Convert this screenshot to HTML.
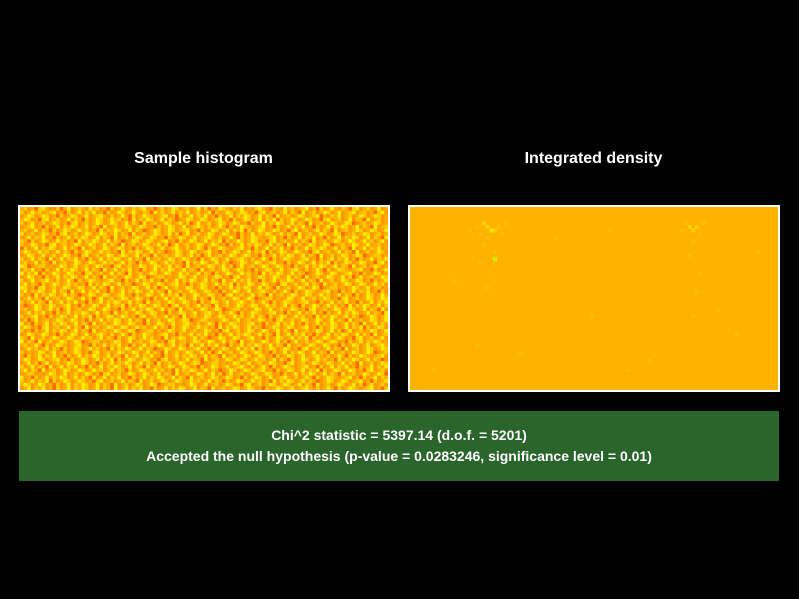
<!DOCTYPE html>
<html><head><meta charset="utf-8"><style>
html,body{margin:0;padding:0;background:#000;width:799px;height:599px;overflow:hidden;font-family:"Liberation Sans",sans-serif}
.t{position:absolute;color:#fff;font-weight:bold;font-size:16px;text-align:center}
svg{position:absolute}
#box{position:absolute;left:19px;top:411px;width:760px;height:70px;background:#2a662c;color:#fff;font-weight:bold;font-size:14px;text-align:center;line-height:21px;box-sizing:border-box;padding-top:14px}
</style></head><body>
<div class="t" style="left:18px;width:371px;top:150px">Sample histogram</div>
<div class="t" style="left:408px;width:371px;top:150px">Integrated density</div>
<svg id="h" style="left:18px;top:205px" width="372" height="187"></svg>
<svg id="d" style="left:408px;top:205px" width="372" height="187"></svg>
<div id="box"><div>Chi^2 statistic = 5397.14 (d.o.f. = 5201)</div><div>Accepted the null hypothesis (p-value = 0.0283246, significance level = 0.01)</div></div>
<script>
const cols=102, rowsN=51;
const histRows=[
"231203421130241232142312031242132341202312431231241302143213241213421032142312341203124213203412312412",
"312423123412031241324120312431242132042312413241231240312431243120341231241320412312431241234123120341",
"124312431203124312412342131242031243212341203124132412031241324312413204123124312340213241231243124312",
"243120341231241320312431242312041324312413201243124312341203124312413240312431243120341231241320412312",
"312412312431203412312431243124132041231243124130241231243124312031241324312413204123124312430123124312",
"123412031241324312413204123124312431203124312412342131242031243212341203124132412031241324312413204123",
"231241320312431242312041324312413201243124312341203124312413240312431243120341231241320412312431243124",
"412312431203412312431243124132041231243124130241231243124312031241324312413204123124312430123124312312",
"124132412031241324312413204123124312431203124312412342131242031243212341203124132412031241324312413204",
"320312431242312041324312413201243124312341203124312413240312431243120341231241320412312431243124231241",
"312431203412312431243124132041231243124130241231243124312031241324312413204123124312430123124312412312",
"031241324312413204123124312431203124312412342131242031243212341203124132412031241324312413204124132412",
"243124231241320312431242312041324312413201243124312341203124312413240312431243120341231241320412312431",
"124312412312431203412312431243124132041231243124130241231243124312031241324312413204123124312430123312",
"312413204124132412031241324312413204123124312431203124312412342131242031243212341203124132412031241324",
"231241320412312431243124231241320312431242312041324312413201243124312341203124312413240312431243120341",
"430123312124312412312431203412312431243124132041231243124130241231243124312031241324312413204123124312",
"132412031241324312413204124132412031241324312413204123124312431203124312412342131242031243212341203124",
"413240312431243120341231241320412312431243124231241320312431242312041324312413201243124312341203124312",
"124312031241324312413204123124312430123312124312412312431203412312431243124132041231243124130241231243",
"312412342131242031243212341203124132412031241324312413204124132412031241324312413204123124312431203124",
"241320312431242312041324312413201243124312341203124312413240312431243120341231241320412312431243124231",
"431203412312431243124132041231243124130241231243124312031241324312413204123124312430123312124312412312",
"241324312413204124132412031241324312413204123124312431203124312412342131242031243212341203124132412031",
"312041324312413201243124312341203124312413240312431243120341231241320412312431243124231241320312431242",
"124132041231243124130241231243124312031241324312413204123124312430123312124312412312431203412312431243",
"312413204124132412031241324312413204123124312431203124312412342131242031243212341203124132412031241324",
"201243124312341203124312413240312431243120341231241320412312431243124231241320312431242312041324312413",
"231243124130241231243124312031241324312413204123124312430123312124312412312431203412312431243124132041",
"124132412031241324312413204123124312431203124312412342131242031243212341203124132412031241324312413204",
"312341203124312413240312431243120341231241320412312431243124231241320312431242312041324312413201243124",
"130241231243124312031241324312413204123124312430123312124312412312431203412312431243124132041231243124",
"412031241324312413204123124312431203124312412342131242031243212341203124132412031241324312413204124132",
"243120341231241320412312431243124231241320312431242312041324312413201243124312341203124312413240312431",
"312031241324312413204123124312430123312124312412312431203412312431243124132041231243124130241231243124",
"124312431203124312412342131242031243212341203124132412031241324312413204124132412031241324312413204123",
"320412312431243124231241320312431242312041324312413201243124312341203124312413240312431243120341231241",
"413204123124312430123312124312412312431203412312431243124132041231243124130241231243124312031241324312",
"231242031243212341203124132412031241324312413204124132412031241324312413204123124312431203124312412342",
"124231241320312431242312041324312413201243124312341203124312413240312431243120341231241320412312431243",
"312124312412312431203412312431243124132041231243124130241231243124312031241324312413204123124312430123",
"203124132412031241324312413204124132412031241324312413204123124312431203124312412342131242031243212341",
"243124312341203124312413240312431243120341231241320412312431243124231241320312431242312041324312413201",
"124130241231243124312031241324312413204123124312430123312124312412312431203412312431243124132041231243",
"312413204124132412031241324312413204123124312431203124312412342131242031243212341203124132412031241324",
"241320412312431243124231241320312431242312041324312413201243124312341203124312413240312431243120341231",
"123312124312412312431203412312431243124132041231243124130241231243124312031241324312413204123124312430",
"412031241324312413204124132412031241324312413204123124312431203124312412342131242031243212341203124132",
"312413240312431243120341231241320412312431243124231241320312431242312041324312413201243124312341203124",
"243124312031241324312413204123124312430123312124312412312431203412312431243124132041231243124130241231",
"124132412031241324312413204124132412031241324312413204123124312431203124312412342131242031243212341203"];
const histColors=["#ff6a00","#ff9800","#ffae00","#ffcc00","#ffee00","#c8ff10"];
const densityBase=0;
const densityBumps=[[20,4,2],[21,5,2],[22,6,3],[23,6,2],[18,5,1],[24,5,1],[19,7,1],[25,7,1],[16,6,1],[26,4,1],[21,8,1],[20,10,1],[23,12,1],[19,15,1],[22,18,1],[21,22,1],[76,4,1],[77,5,2],[78,6,2],[79,5,2],[80,7,1],[75,6,1],[81,4,1],[78,9,1],[77,13,1],[80,18,1],[79,23,1],[78,30,1],[30,40,1],[12,20,1],[50,30,1],[60,45,1],[90,35,1],[6,45,1],[96,12,1],[40,8,1],[55,6,1],[66,42,1],[18,38,1],[85,28,1],[23,14,4]];
const densityColors=["#ffb200","#ffbe00","#ffd000","#ffe400","#c8ff00"];
const NS="http://www.w3.org/2000/svg";
function x(c){return 2+c*(368/cols);}
function y(r){return 2+r*(183/rowsN);}
function frame(svg){
 const b=document.createElementNS(NS,"rect");
 
 
 b.setAttribute("x",1);b.setAttribute("y",1);b.setAttribute("width",370);b.setAttribute("height",185);b.setAttribute("fill","none");b.setAttribute("stroke","#fff");b.setAttribute("stroke-width",2);
 svg.appendChild(b);
}
function cell(svg,c,r,color){
 const e=document.createElementNS(NS,"rect");
 
 
 e.setAttribute("x",x(c));e.setAttribute("y",y(r));e.setAttribute("width",x(c+1)-x(c)+0.3);e.setAttribute("height",y(r+1)-y(r)+0.3);e.setAttribute("fill",color);
 svg.appendChild(e);
}
const h=document.getElementById("h");
for(let r=0;r<rowsN;r++)for(let c=0;c<cols;c++){cell(h,c,r,histColors[+histRows[r][c]]);}
frame(h);
const d=document.getElementById("d");
const bg=document.createElementNS(NS,"rect");


bg.setAttribute("x",2);bg.setAttribute("y",2);bg.setAttribute("width",368);bg.setAttribute("height",183);bg.setAttribute("fill",densityColors[densityBase]);
d.appendChild(bg);
densityBumps.forEach(b=>cell(d,b[0],b[1],densityColors[b[2]]));
frame(d);
</script>
</body></html>
